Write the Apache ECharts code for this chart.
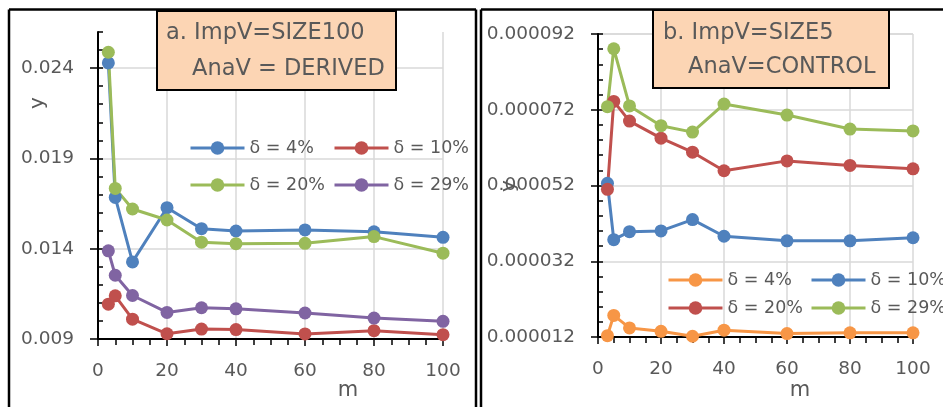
<!DOCTYPE html>
<html><head><meta charset="utf-8">
<script src="https://cdn.jsdelivr.net/npm/echarts@6/dist/echarts.min.js"></script>
<style>html,body{margin:0;padding:0;background:#fff}#c{width:943px;height:407px}</style>
</head><body><div id="c"></div>
<script>
// ---------- DATA ----------
const mValues = [3, 5, 10, 20, 30, 40, 60, 80, 100];
const xTicks = [0, 20, 40, 60, 80, 100];

// Panel a: ImpV=SIZE100, AnaV=DERIVED
const aNames = ['δ = 4%', 'δ = 10%', 'δ = 20%', 'δ = 29%'];
const aD4  = [0.02429, 0.01684, 0.01327, 0.01627, 0.01511, 0.01498, 0.01504, 0.01494, 0.01463];
const aD10 = [0.01093, 0.01139, 0.01010, 0.00929, 0.00955, 0.00952, 0.00928, 0.00946, 0.00924];
const aD20 = [0.02488, 0.01734, 0.01620, 0.01559, 0.01436, 0.01428, 0.01430, 0.01467, 0.01375];
const aD29 = [0.01388, 0.01253, 0.01141, 0.01047, 0.01073, 0.01067, 0.01044, 0.01016, 0.00998];
const aYTicks = [0.009, 0.014, 0.019, 0.024];
const aYMax = 0.026;

// Panel b: ImpV=SIZE5, AnaV=CONTROL
const bNames = ['δ = 4%', 'δ = 10%', 'δ = 20%', 'δ = 29%'];
const bD4  = [0.00001235, 0.0000177, 0.0000144, 0.0000135, 0.0000122, 0.0000138, 0.0000129, 0.0000131, 0.0000131];
const bD10 = [0.0000526, 0.0000377, 0.0000398, 0.0000400, 0.0000430, 0.0000386, 0.0000374, 0.0000374, 0.0000382];
const bD20 = [0.0000510, 0.0000742, 0.0000690, 0.0000645, 0.0000608, 0.0000559, 0.0000585, 0.0000573, 0.0000564];
const bD29 = [0.0000728, 0.0000881, 0.0000730, 0.0000678, 0.0000661, 0.0000735, 0.0000706, 0.0000669, 0.0000664];
const bYTicks = [0.000012, 0.000032, 0.000052, 0.000072, 0.000092];

const titleA = ['a. ImpV=SIZE100', 'AnaV = DERIVED'];
const titleB = ['b. ImpV=SIZE5', 'AnaV=CONTROL'];

// ---------- STYLE ----------
const FONT = 'DejaVu Sans';
const TXT = '#595959';
const BLUE = '#4F81BD', RED = '#C0504D', GREEN = '#9BBB59', PURPLE = '#8064A2', ORANGE = '#F79646';
const GRIDC = '#D9D9D9';
const SUFFIX = ' '; // distinguishes panel-b series names for its own legend

function pairs(vals) { return mValues.map((m, i) => [m, vals[i]]); }
function lineSeries(name, vals, color, xi, yi) {
  return {
    type: 'line', name: name, data: pairs(vals), xAxisIndex: xi, yAxisIndex: yi,
    symbol: 'circle', symbolSize: 13, color: color,
    itemStyle: { color: color }, lineStyle: { color: color, width: 3 },
    emphasis: { disabled: true }, animation: false, z: 3
  };
}

function mainX(gi) {
  return {
    type: 'value', gridIndex: gi, min: xTicks[0], max: xTicks[xTicks.length - 1],
    interval: xTicks[1] - xTicks[0],
    axisLine: { show: true, onZero: false, lineStyle: { color: '#000', width: 2 } },
    axisTick: { show: true, length: 7, lineStyle: { color: '#000', width: 1.5 } },
    minorTick: { show: true, splitNumber: 4, length: 6, lineStyle: { color: '#000', width: 1.5 } },
    splitLine: { show: true, lineStyle: { color: GRIDC, width: 1.5 } },
    axisLabel: { color: TXT, fontFamily: FONT, fontSize: 18.5, margin: 23 }
  };
}

const option = {
  backgroundColor: '#fff',
  animation: false,
  grid: [
    { left: 98, top: 32, width: 345, height: 307 },
    { left: 598, top: 34, width: 315, height: 303 }
  ],
  xAxis: [mainX(0), mainX(1)],
  yAxis: [
    { type: 'value', gridIndex: 0, position: 'left', min: aYTicks[0], max: aYMax,
      interval: aYTicks[1] - aYTicks[0],
      axisLine: { show: true, onZero: false, lineStyle: { color: '#000', width: 2 } },
      axisTick: { show: true, length: 8, lineStyle: { color: '#000', width: 1.5 } },
      splitLine: { show: true, showMaxLine: false, lineStyle: { color: GRIDC, width: 1.5 } },
      axisLabel: { color: TXT, fontFamily: FONT, fontSize: 18.5, margin: 24, showMaxLabel: false,
        formatter: v => v.toFixed(3) } },
    { type: 'value', gridIndex: 0, position: 'left', min: aYTicks[0], max: aYMax, interval: 0.001,
      axisLine: { show: false }, axisLabel: { show: false }, splitLine: { show: false },
      axisTick: { show: true, inside: true, length: 5, lineStyle: { color: '#000', width: 1.5 } } },
    { type: 'value', gridIndex: 1, position: 'left', min: bYTicks[0], max: bYTicks[bYTicks.length - 1],
      interval: bYTicks[1] - bYTicks[0],
      axisLine: { show: true, onZero: false, lineStyle: { color: '#000', width: 2 } },
      axisTick: { show: true, length: 7, lineStyle: { color: '#000', width: 1.5 } },
      splitLine: { show: true, lineStyle: { color: GRIDC, width: 1.5 } },
      axisLabel: { color: TXT, fontFamily: FONT, fontSize: 18.5, margin: 23,
        formatter: v => v.toFixed(6) } },
    { type: 'value', gridIndex: 1, position: 'left', min: bYTicks[0], max: bYTicks[bYTicks.length - 1],
      interval: 0.000004,
      axisLine: { show: false }, axisLabel: { show: false }, splitLine: { show: false },
      axisTick: { show: true, inside: true, length: 5, lineStyle: { color: '#000', width: 1.5 } } }
  ],
  legend: [],
  series: [
    lineSeries(aNames[0], aD4, BLUE, 0, 0),
    lineSeries(aNames[1], aD10, RED, 0, 0),
    lineSeries(aNames[2], aD20, GREEN, 0, 0),
    lineSeries(aNames[3], aD29, PURPLE, 0, 0),
    lineSeries(bNames[0] + SUFFIX, bD4, ORANGE, 1, 2),
    lineSeries(bNames[1] + SUFFIX, bD10, BLUE, 1, 2),
    lineSeries(bNames[2] + SUFFIX, bD20, RED, 1, 2),
    lineSeries(bNames[3] + SUFFIX, bD29, GREEN, 1, 2)
  ],
  graphic: []
};

function legendCol(names, left, top, gap) {
  return {
    orient: 'vertical', left: left, top: top, itemGap: gap, padding: 0,
    itemWidth: 54, itemHeight: 17, selectedMode: false, data: names,
    formatter: n => n.trim(),
    lineStyle: { width: 3 },
    textStyle: { color: TXT, fontFamily: FONT, fontSize: 17.5, lineHeight: 20, padding: [0, 0, 0, 0] }
  };
}
option.legend.push(legendCol([aNames[0], aNames[2]], 189, 138, 17));
option.legend.push(legendCol([aNames[1], aNames[3]], 333, 138, 17));
option.legend.push(legendCol([bNames[0] + SUFFIX, bNames[2] + SUFFIX], 667, 270, 8));
option.legend.push(legendCol([bNames[1] + SUFFIX, bNames[3] + SUFFIX], 810, 270, 8));

const G = option.graphic;
function line(x1, y1, x2, y2) {
  G.push({ type: 'line', shape: { x1, y1, x2, y2 }, style: { stroke: '#000', lineWidth: 2.5 }, z: 10, silent: true });
}
// frames
line(9, 9.5, 476, 9.5); line(9, 9.5, 9, 407); line(476, 9.5, 476, 407);
line(481, 9.5, 943, 9.5); line(481, 9.5, 481, 407);

function text(t, x, y, size) {
  G.push({ type: 'text', x: x, y: y, z: 12, silent: true,
    style: { text: t, fill: TXT, font: size + 'px "' + FONT + '"', textAlign: 'left', textVerticalAlign: 'middle' } });
}
// title boxes
G.push({ type: 'rect', shape: { x: 157, y: 11, width: 239, height: 79 }, style: { fill: '#FCD5B4', stroke: '#000', lineWidth: 2 }, z: 11, silent: true });
text(titleA[0], 166, 33, 22.5);
text(titleA[1], 192, 69, 22.5);
G.push({ type: 'rect', shape: { x: 653, y: 10, width: 236, height: 78 }, style: { fill: '#FCD5B4', stroke: '#000', lineWidth: 2 }, z: 11, silent: true });
text(titleB[0], 663, 33, 22.5);
text(titleB[1], 688, 67, 22.5);

// axis names
function axisName(t, x, y, size, rot) {
  G.push({ type: 'text', x: x, y: y, rotation: rot, z: 12, silent: true,
    style: { text: t, fill: TXT, font: size + 'px "' + FONT + '"', textAlign: 'center', textVerticalAlign: 'middle' } });
}
axisName('y', 38, 103, 20, Math.PI / 2);
axisName('y', 509, 186, 20, Math.PI / 2);
axisName('m', 348, 391, 21, 0);
axisName('m', 800, 391, 21, 0);

const chart = echarts.init(document.getElementById('c'), null, { renderer: 'canvas' });
chart.setOption(option);
</script>
</body></html>
